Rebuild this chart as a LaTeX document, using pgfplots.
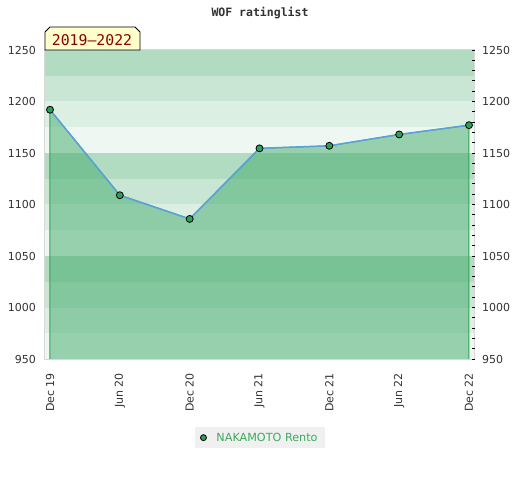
\documentclass[border=0pt]{standalone}
\usepackage{fontspec}
\setmainfont{DejaVu Sans}
\newfontfamily\monofont{DejaVu Sans Mono}
\usepackage{pgfplots}
\pgfplotsset{compat=1.18}
\definecolor{bandA}{RGB}{178,220,193}
\definecolor{bandB}{RGB}{200,230,211}
\definecolor{bandC}{RGB}{220,239,227}
\definecolor{bandD}{RGB}{238,247,241}
\definecolor{fillgreen}{RGB}{64,170,107}
\definecolor{edgegreen}{RGB}{50,165,85}
\definecolor{lineblue}{RGB}{90,160,220}
\definecolor{markgreen}{RGB}{46,158,90}
\definecolor{legendtext}{RGB}{60,170,95}
\definecolor{legendbg}{RGB}{240,240,240}
\definecolor{labelgray}{RGB}{51,51,51}
\definecolor{framegray}{RGB}{216,216,216}
\definecolor{labelyellow}{RGB}{255,255,204}
\definecolor{labelred}{RGB}{139,0,0}
\begin{document}
\begin{tikzpicture}[x=1pt,y=1pt]
\useasboundingbox[fill=white] (0,0) rectangle (520,480);
\begin{axis}[at={(45pt,121pt)}, anchor=south west, scale only axis,
  width=430pt, height=309pt,
  xmin=-0.0716, xmax=6.086, ymin=950, ymax=1250,
  xtick={0,1,2,3,4,5,6},
  xticklabels={Dec 19,Jun 20,Dec 20,Jun 21,Dec 21,Jun 22,Dec 22},
  ytick={950,1000,1050,1100,1150,1200,1250},
  major tick length=0pt, tick style={draw=none},
  /pgf/number format/assume math mode=true,
  /pgf/number format/1000 sep={},
  ticklabel style={font=\fontsize{11}{13}\selectfont, text=labelgray},
  yticklabel style={inner sep=0pt, anchor=east, xshift=-9pt},
  xticklabel style={yshift=-14pt, rotate=90, anchor=east, inner sep=0pt},
  axis line style={draw=framegray, line width=1pt},
  axis on top,
  legend style={at={(0.5,-0.2545)}, anchor=center, fill=legendbg, draw=none,
    font=\fontsize{11.2}{13}\selectfont, text=legendtext, inner xsep=5.5pt, inner ysep=3.5pt},
]
\fill[bandD] (axis cs:-1,950) rectangle (axis cs:7,975);
\fill[bandC] (axis cs:-1,975) rectangle (axis cs:7,1000);
\fill[bandB] (axis cs:-1,1000) rectangle (axis cs:7,1025);
\fill[bandA] (axis cs:-1,1025) rectangle (axis cs:7,1050);
\fill[bandD] (axis cs:-1,1050) rectangle (axis cs:7,1075);
\fill[bandC] (axis cs:-1,1075) rectangle (axis cs:7,1100);
\fill[bandB] (axis cs:-1,1100) rectangle (axis cs:7,1125);
\fill[bandA] (axis cs:-1,1125) rectangle (axis cs:7,1150);
\fill[bandD] (axis cs:-1,1150) rectangle (axis cs:7,1175);
\fill[bandC] (axis cs:-1,1175) rectangle (axis cs:7,1200);
\fill[bandB] (axis cs:-1,1200) rectangle (axis cs:7,1225);
\fill[bandA] (axis cs:-1,1225) rectangle (axis cs:7,1250);
\addplot[draw=edgegreen, line width=1pt, fill=fillgreen, fill opacity=0.5, forget plot]
  coordinates {(0,950) (0,1192) (1,1109) (2,1086) (3,1154.5) (4,1157) (5,1168) (6,1177) (6,950)};
\addplot[color=lineblue, line width=1.5pt, mark=*, mark size=3.5pt,
  mark options={fill=markgreen, draw=black, line width=0.8pt}, forget plot]
  coordinates {(0,1192) (1,1109) (2,1086) (3,1154.5) (4,1157) (5,1168) (6,1177)};
\addlegendimage{only marks, mark=*, mark size=3pt, mark options={fill=markgreen, draw=black, line width=0.8pt}}
\addlegendentry{\hspace{8pt}NAKAMOTO Rento}
\end{axis}
\begin{axis}[at={(45pt,121pt)}, anchor=south west, scale only axis,
  width=430pt, height=309pt,
  xmin=-0.0716, xmax=6.086, ymin=950, ymax=1250,
  hide x axis, axis line style={draw=none},
  ytick={950,1000,1050,1100,1150,1200,1250},
  minor ytick={960,970,980,990,1010,1020,1030,1040,1060,1070,1080,1090,1110,1120,1130,1140,1160,1170,1180,1190,1210,1220,1230,1240},
  ytick pos=right, yticklabel pos=right, tick align=inside,
  major tick length=3pt, minor tick length=3pt,
  tick style={draw=black, line width=0.8pt},
  /pgf/number format/assume math mode=true,
  /pgf/number format/1000 sep={},
  yticklabel style={font=\fontsize{11}{13}\selectfont, text=labelgray, anchor=west, inner sep=0pt, xshift=7pt},
]
\addplot[draw=none, forget plot] coordinates {(0,1000)};
\end{axis}
\node[font=\monofont\bfseries\fontsize{11.5}{13}\selectfont, text=labelgray] at (260,466.5) {WOF ratinglist};
\filldraw[fill=labelyellow, draw=black, line width=0.8pt] (45,430) -- (45,448) -- (50,453) -- (135,453) -- (140,448) -- (140,430) -- cycle;
\node[font=\monofont\fontsize{14.8}{16}\selectfont, text=labelred, anchor=base, inner sep=0pt] at (92,434.3) {2019–2022};
\end{tikzpicture}
\end{document}
